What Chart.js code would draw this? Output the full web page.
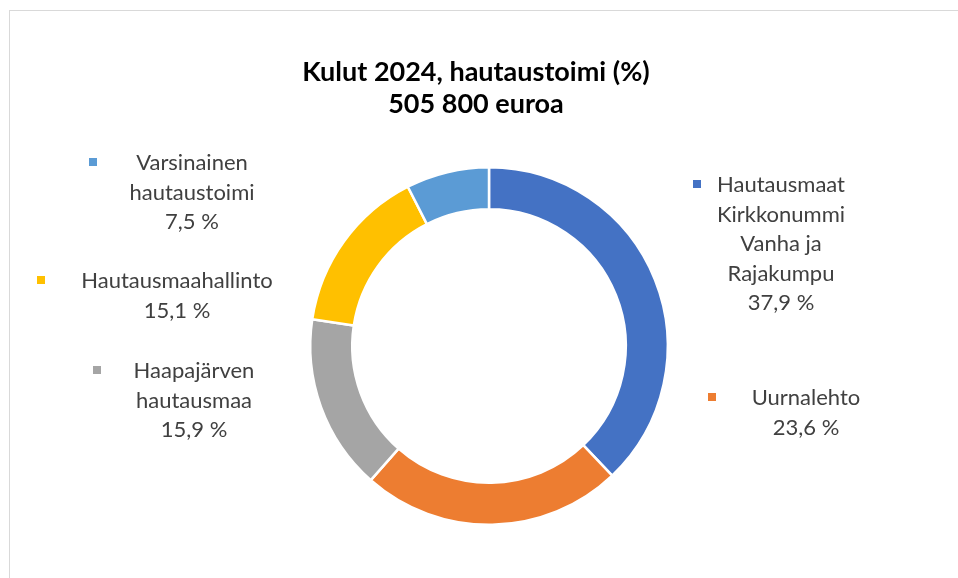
<!DOCTYPE html>
<html>
<head>
<meta charset="utf-8">
<script src="https://cdn.jsdelivr.net/npm/chart.js@4"></script>
<style>
    html, body { margin: 0; padding: 0; background: #fff; }
    #wrap { position: relative; width: 958px; height: 578px; overflow: hidden; }
    #frame { position: absolute; left: 9px; top: 10px; width: 1000px; height: 1000px; border: 1px solid #d9d9d9; }
    #chart { position: absolute; left: 0; top: 0; }
</style>
</head>
<body>
<div id="wrap">
    <div id="frame"></div>
    <canvas id="chart" width="958" height="578"></canvas>
</div>
<script>
const titleLines = ['Kulut 2024, hautaustoimi (%)', '505 800 euroa'];

// category names, already split to the lines used in the labels
const categories = [
    ['Hautausmaat', 'Kirkkonummi', 'Vanha ja', 'Rajakumpu'],
    ['Uurnalehto'],
    ['Haapajärven', 'hautausmaa'],
    ['Hautausmaahallinto'],
    ['Varsinainen', 'hautaustoimi']
];
const shares = [37.9, 23.6, 15.9, 15.1, 7.5];
const colors = ['#4472C4', '#ED7D31', '#A5A5A5', '#FFC000', '#5B9BD5'];

// label placement, relative to the doughnut centre (text block centre x, first line y, legend key x)
const labelPos = [
    { dx: 292, dy: -161, key: -84 },
    { dx: 317, dy: 52, key: -94 },
    { dx: -295, dy: 25, key: -97 },
    { dx: -312, dy: -65, key: -136 },
    { dx: -297, dy: -183, key: -99 }
];

const fontFamily = 'Lato, "Open Sans", sans-serif';

function fmt(v) {
    return v.toFixed(1).replace('.', ',') + ' %';
}

const labelPlugin = {
    id: 'sliceLabels',
    afterDraw(chart) {
        const ctx = chart.ctx;
        const arc = chart.getDatasetMeta(0).data[0];
        const cx = arc.x, cy = arc.y;
        const lineH = 29.5;
        ctx.save();
        ctx.textAlign = 'center';
        ctx.textBaseline = 'middle';

        // title, a little left of the doughnut centre as in the original
        ctx.font = 'bold 27px ' + fontFamily;
        ctx.fillStyle = '#000000';
        titleLines.forEach((t, j) => ctx.fillText(t, cx - 13, 72 + j * 32));

        ctx.font = '22px ' + fontFamily;
        categories.forEach((lines, i) => {
            const p = labelPos[i];
            const x = cx + p.dx;
            const y0 = cy + p.dy;
            const all = lines.concat([fmt(shares[i])]);
            ctx.fillStyle = '#404040';
            all.forEach((t, j) => ctx.fillText(t, x, y0 + j * lineH));
            ctx.fillStyle = colors[i];
            ctx.fillRect(x + p.key - 4, y0 - 5, 8, 8);
        });
        ctx.restore();
    }
};

new Chart(document.getElementById('chart').getContext('2d'), {
    type: 'doughnut',
    data: {
        labels: categories.map(c => c.join(' ')),
        datasets: [{
            data: shares,
            backgroundColor: colors,
            borderColor: '#ffffff',
            borderWidth: 2.5,
            hoverOffset: 0
        }]
    },
    options: {
        responsive: false,
        animation: false,
        cutout: '76.5%',
        layout: {
            padding: { top: 166, bottom: 52, left: 20, right: 0 }
        },
        plugins: {
            legend: { display: false },
            tooltip: { enabled: false },
            title: { display: false }
        }
    },
    plugins: [labelPlugin]
});
</script>
</body>
</html>
